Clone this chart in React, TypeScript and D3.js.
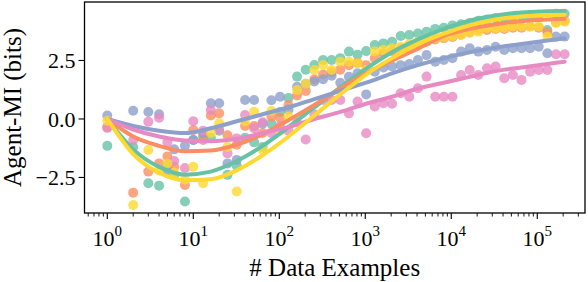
import React from 'react';
import * as d3 from 'd3';

// sample sizes (one column of dots per value)
const sizes = [1, 2, 3, 4, 5, 6, 8, 10, 13, 16, 20, 25, 32, 40, 51, 64, 81, 102, 128, 161, 203, 256, 323, 406, 512, 645, 813, 1024, 1290, 1625, 2048, 2580, 3251, 4096, 5161, 6502, 8192, 10321, 13004, 16384, 20643, 26008, 32768, 41285, 52016, 65536, 82570, 104032, 131072, 165140, 208064];

const greenPts = [-1.15, -1.2, -2.75, -2.85, -2.0, -2.4, -3.53, -0.9, -0.75, -0.8, -0.5, -2.39, -2.0, -0.8, -1.0, -1.2, -0.2, 0.3, 0.9, 1.81, 2.1, 2.31, 2.52, 2.52, 2.6, 2.88, 2.75, 2.9, 3.16, 3.23, 3.3, 3.55, 3.59, 3.65, 3.73, 3.85, 3.9, 4.0, 4.05, 4.1, 4.2, 4.25, 4.3, 4.3, 4.35, 4.4, 4.4, 4.45, 3.8, 4.5, 4.5];
const orangePts = [-0.35, -3.15, -2.25, -1.9, -1.6, -2.04, -2.82, -0.47, -0.9, 0.15, 0.24, -0.7, -1.1, -0.3, -0.3, -0.6, 0.1, 0.05, 0.6, 1.0, 1.2, 1.7, 1.9, 2.0, 2.1, 2.3, 2.4, 2.3, 2.6, 2.8, 2.9, 3.0, 3.1, 3.2, 3.3, 3.4, 3.45, 3.5, 3.6, 3.7, 3.8, 3.8, 3.85, 3.85, 3.9, 3.9, 3.95, 3.9, 3.7, 4.15, 4.2];
const bluePts = [0.15, 0.35, 0.3, 0.2, -2.25, -1.3, -1.15, -0.9, -0.6, 0.67, 0.67, -1.9, -1.75, 0.81, 0.81, -0.2, 0.8, 0.95, 0.4, 1.38, 1.5, 1.6, 1.7, 1.85, 1.55, 1.8, 1.95, 1.05, 2.02, 2.2, 2.24, 2.3, 2.35, 2.52, 2.73, 2.45, 2.52, 2.6, 2.88, 3.02, 2.88, 2.95, 3.09, 2.95, 3.02, 3.02, 3.02, 3.09, 2.81, 3.52, 3.52];
const pinkPts = [-0.38, -0.9, -0.12, 0.05, -1.0, -1.8, -2.1, -0.1, -0.5, 0.38, -0.45, -1.47, -0.83, 0.17, -0.4, -0.14, -0.6, -0.3, -0.5, -0.15, -0.88, 0.2, 0.81, 0.81, 0.81, 0.24, 0.75, -0.61, 0.53, 0.67, 0.65, 1.1, 0.95, 1.31, 1.81, 0.95, 0.95, 0.95, 1.88, 2.09, 1.88, 2.17, 2.24, 1.74, 1.88, 1.67, 2.02, 2.09, 2.09, 2.77, 2.77];
const yellowPts = [-0.08, -3.68, -1.33, -2.2, -1.9, -2.3, -2.6, -2.04, -2.75, -0.6, -0.18, -1.2, -3.1, -0.1, 0.31, -1.32, 0.34, -0.5, 0.1, 1.24, 1.5, 2.09, 2.31, 2.09, 2.45, 2.45, 2.38, 2.09, 2.88, 2.95, 3.02, 3.09, 3.2, 3.3, 3.38, 3.45, 3.5, 3.55, 3.6, 3.7, 3.73, 3.88, 3.88, 3.9, 3.95, 3.95, 3.95, 3.95, 3.52, 4.09, 4.16];

// fitted trend, sampled at powers of two
const fitSizes = [1, 2, 4, 8, 16, 32, 64, 128, 256, 512, 1024, 2048, 4096, 8192, 16384, 32768, 65536, 131072, 208064];
const greenFit = [0, -1.3, -2.05, -2.38, -2.25, -1.8, -1.15, -0.35, 0.5, 1.35, 2.15, 2.85, 3.4, 3.85, 4.2, 4.42, 4.55, 4.6, 4.62];
const orangeFit = [0, -0.75, -1.15, -1.38, -1.35, -1.1, -0.65, -0.05, 0.6, 1.3, 1.95, 2.5, 3.0, 3.55, 3.85, 4.05, 4.18, 4.25, 4.28];
const blueFit = [0, -0.3, -0.5, -0.6, -0.4, -0.1, 0.2, 0.5, 0.85, 1.2, 1.55, 1.95, 2.3, 2.6, 2.85, 3.05, 3.2, 3.35, 3.45];
const pinkFit = [0, -0.45, -0.75, -0.92, -0.95, -0.85, -0.6, -0.35, 0.0, 0.3, 0.65, 0.95, 1.3, 1.55, 1.8, 2.05, 2.2, 2.35, 2.45];
const yellowFit = [0, -1.5, -2.3, -2.62, -2.58, -2.2, -1.55, -0.75, 0.15, 1.05, 1.9, 2.6, 3.2, 3.65, 4.0, 4.25, 4.38, 4.44, 4.46];

const colors = ['#66c2a5', '#fc8d62', '#8da0cb', '#e78ac3', '#ffd92f'];
const yTicks = [-2.5, 0, 2.5];
const xTickExps = [0, 1, 2, 3, 4, 5];

const W = 588;
const H = 282;
const left = 84.5, right = 585, top = 2, bottom = 213;

export default function App() {
  const x = d3.scaleLog().domain([Math.pow(10, -0.265), Math.pow(10, 5.555)]).range([left, right]);
  const y = d3.scaleLinear().domain([-4.02, 5.0]).range([bottom, top]);

  const pts = [greenPts, orangePts, bluePts, pinkPts, yellowPts];
  const fits = [greenFit, orangeFit, blueFit, pinkFit, yellowFit];

  const line = d3.line<number>()
    .x((d, i) => x(fitSizes[i]))
    .y(d => y(d))
    .curve(d3.curveMonotoneX);

  const minor: number[] = [];
  for (let e = -1; e <= 5; e++) {
    for (let m = 2; m <= 9; m++) {
      const v = m * Math.pow(10, e);
      const px = x(v);
      if (px >= left && px <= right) minor.push(v);
    }
  }

  const font = '"Liberation Serif", "Times New Roman", serif';

  return (
    <svg width={W} height={H} style={{ position: 'absolute', left: 0, top: 0 }} fontFamily={font}>
      <rect width={W} height={H} fill="#fff" />
      <defs>
        <clipPath id="plot">
          <rect x={left} y={top} width={right - left} height={bottom - top} />
        </clipPath>
      </defs>
      <g clipPath="url(#plot)">
        {pts.map((s, si) => (
          <g key={si} fill={colors[si]} fillOpacity={0.8}>
            {s.map((v, i) => (
              <circle key={i} cx={x(sizes[i])} cy={y(v)} r={5} />
            ))}
          </g>
        ))}
        {fits.map((f, si) => (
          <path key={si} d={line(f) || ''} fill="none" stroke={colors[si]} strokeWidth={4} strokeLinecap="round" />
        ))}
      </g>
      <rect x={left} y={top} width={right - left} height={bottom - top} fill="none" stroke="#000" strokeWidth={1.3} />
      {yTicks.map(t => (
        <g key={t}>
          <line x1={left - 6} x2={left} y1={y(t)} y2={y(t)} stroke="#000" strokeWidth={1.1} />
          <text x={left - 9} y={y(t)} dy="0.35em" textAnchor="end" fontSize={22}>
            {t === 0 ? '0.0' : (t < 0 ? '\u2212' : '') + Math.abs(t).toFixed(1)}
          </text>
        </g>
      ))}
      {minor.map((v, i) => (
        <line key={i} x1={x(v)} x2={x(v)} y1={bottom} y2={bottom + 3.5} stroke="#000" strokeWidth={0.9} />
      ))}
      {xTickExps.map(e => (
        <g key={e} transform={`translate(${x(Math.pow(10, e))},${bottom})`}>
          <line y1={0} y2={6} stroke="#000" strokeWidth={1.1} />
          <text y={33} textAnchor="middle" fontSize={22}>
            10<tspan dy={-10} fontSize={15}>{e}</tspan>
          </text>
        </g>
      ))}
      <text x={(left + right) / 2} y={276} textAnchor="middle" fontSize={25}># Data Examples</text>
      <text transform={`translate(21,${(top + bottom) / 2}) rotate(-90)`} textAnchor="middle" fontSize={25}>Agent-MI (bits)</text>
    </svg>
  );
}
